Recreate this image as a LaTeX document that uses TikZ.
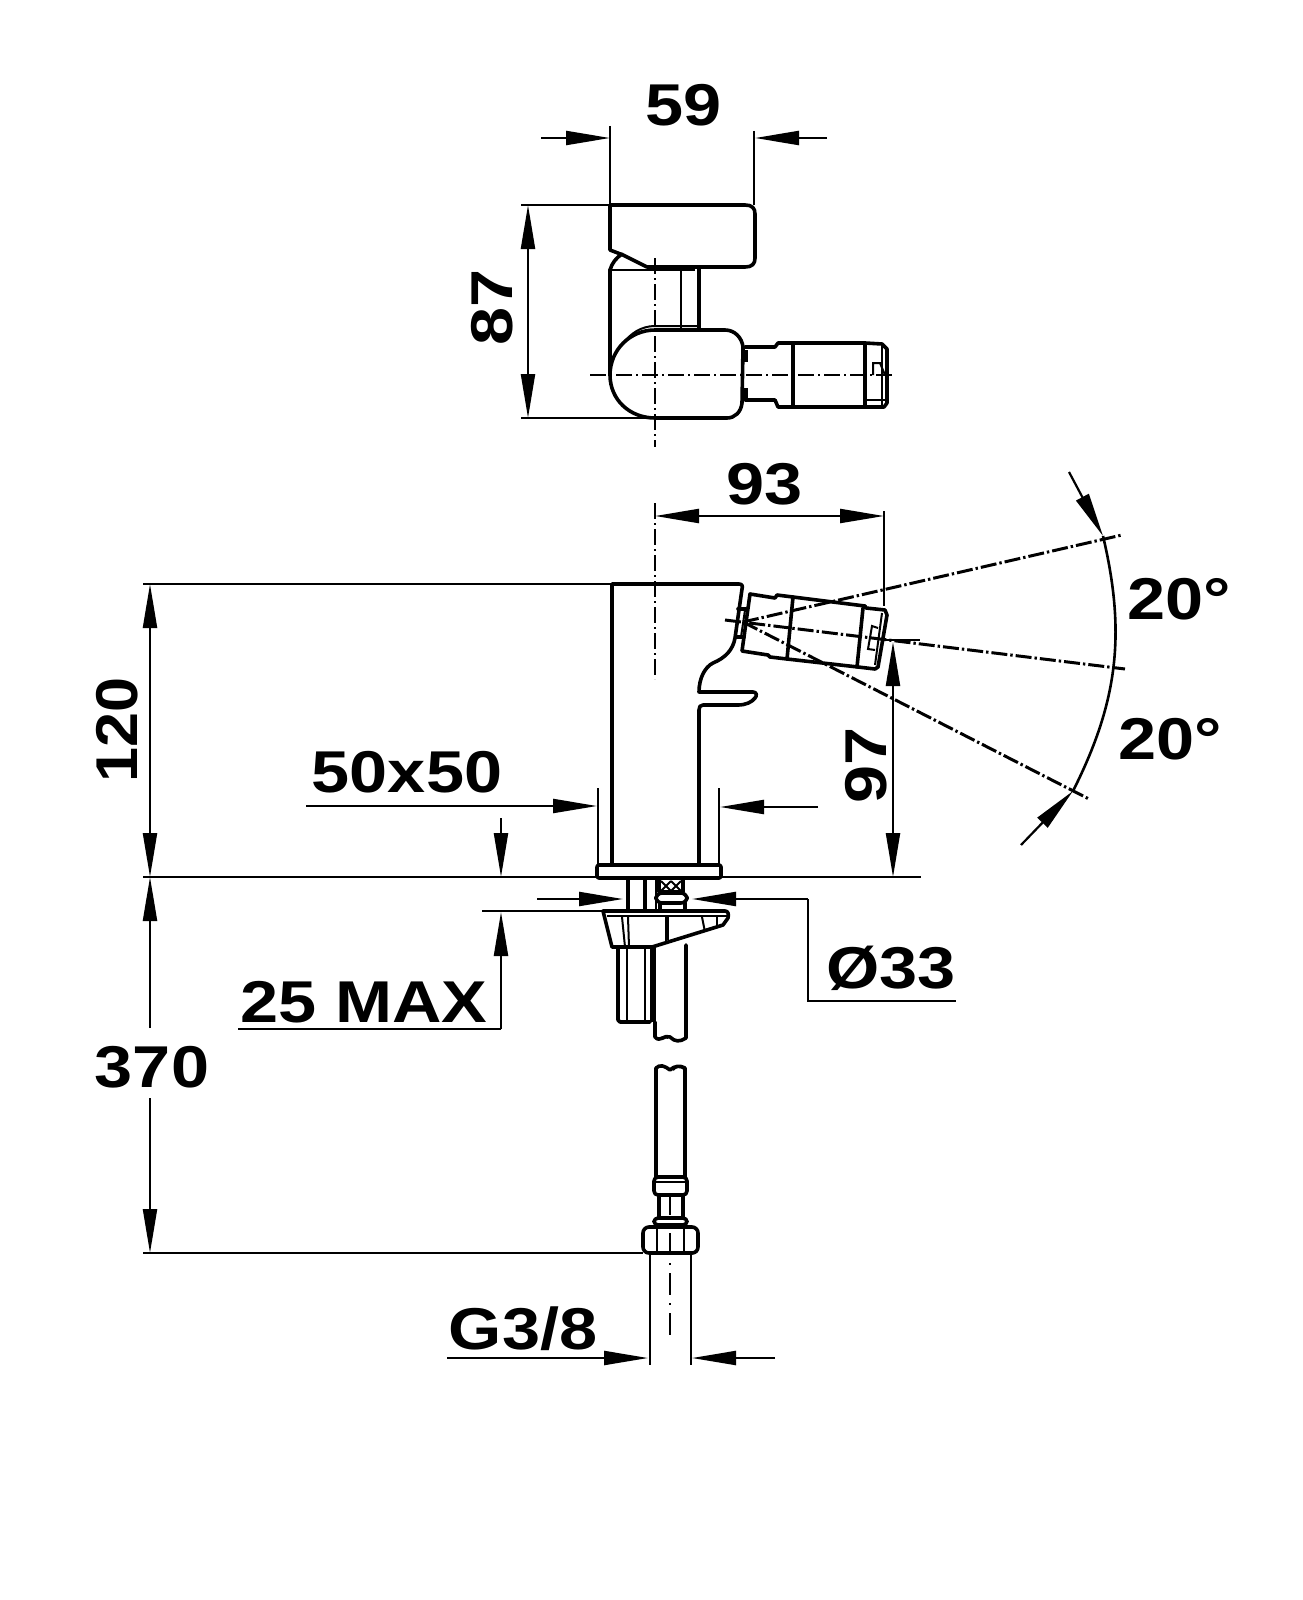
\documentclass[tikz,border=0pt]{standalone}
\usepackage{fontspec}
\setmainfont{Liberation Sans}[FakeStretch=1.16]
\usetikzlibrary{arrows.meta}
\tikzset{
  outline/.style={line width=1.8pt,line join=round,line cap=round},
  inner/.style={line width=1pt},
  dimline/.style={line width=1.1pt},
  dimarrow/.style={dimline,-{Triangle[length=22pt,width=7pt]}},
  centerline/.style={line width=1.2pt,dash pattern=on 8pt off 2pt on 1pt off 2pt},
  angleline/.style={line width=1.5pt,dash pattern=on 8pt off 1.5pt on 1.2pt off 1.5pt},
  dimtext/.style={font=\fontsize{29.5}{30}\selectfont\bfseries,inner sep=0pt}
}
\begin{document}
\begin{tikzpicture}[x=.5pt,y=-.5pt]
\useasboundingbox (0,0) rectangle (1302,1600);
% Top view: lever block
\draw[outline] (610,205) -- (745,205) .. controls (752,205) and (755,208) .. (755,214) -- (755,258)
  .. controls (755,264) and (752,267) .. (745,267) -- (647,267) -- (623,255) -- (610,250) -- cycle;
\draw[outline] (610,270) .. controls (612,263) and (616,258) .. (622,254);
\draw[inner] (610,270) -- (695,270);
% Top view: column
\draw[outline] (610,270) -- (610,375);
\draw[outline] (699,267) -- (699,330);
\draw[inner] (681,270) -- (681,328);
% Top view: body
\draw[outline] (610,375) .. controls (610,350) and (630,330) .. (655,330) -- (725,330)
  .. controls (735,330) and (742,338) .. (743,347) -- (742,403) .. controls (741,412) and (735,418) .. (727,418)
  -- (655,418) .. controls (630,418) and (610,400) .. (610,375);
\draw[inner] (622,345) .. controls (630,333) and (642,326) .. (655,326) -- (697,326);
% Top view: spout
\draw[outline] (745,347) -- (775,347) -- (778,343) -- (865,343) -- (882,344) -- (887,349) -- (887,403) -- (884,407) -- (778,407) -- (775,400) -- (745,400);
\foreach \x in {793,865}
{
  \draw[outline] (\x,343) -- (\x,407);
}
\draw[inner] (882,345) -- (882,405);
\draw[inner] (866,400) -- (885,400);
\draw[inner] (873,375) -- (873,363) -- (880,363) -- (885,375);
\foreach \y in {350,388}
{
  \draw[line width=3pt] (745,\y) -- (745,\y+12);
}
% Top view: center lines
\draw[centerline] (655,258) -- (655,447);
\draw[centerline] (590,375) -- (895,375);
% Top view: dimensions
\draw[dimline] (610,126) -- (610,205);
\draw[dimline] (754,131) -- (754,205);
\draw[dimarrow] (541,138) -- (610,138);
\draw[dimarrow] (827,138) -- (755,138);
\node[dimtext] (w59) at (684,105) {59};
\draw[dimline] (521,205) -- (610,205);
\draw[dimline] (521,418) -- (650,418);
\draw[dimarrow] (528,311) -- (528,205);
\draw[dimarrow] (528,311) -- (528,418);
\node[dimtext,rotate=90] (h87) at (492,307) {87};
% Side view: body and lever
\draw[outline] (612,865) -- (612,584) -- (739,584) .. controls (742,584) and (743,586) .. (742,589) -- (735,638)
  .. controls (733,650) and (725,658) .. (713,663) .. controls (705,667) and (699,678) .. (699,692) -- (753,692)
  .. controls (757,692) and (757,696) .. (755,698) .. controls (752,702) and (746,705) .. (738,705) -- (703,705)
  .. controls (700,705) and (699,707) .. (699,710) -- (699,865);
\draw[outline,rounded corners=1pt] (597,865) rectangle (721,878);
\draw[dimline] (598,788) -- (598,865);
\draw[dimline] (719,788) -- (719,865);
% Side view: spout
\draw[outline] (750,594) -- (775,598) -- (777,595) -- (793,597) -- (865,606) -- (866,608) -- (885,610) -- (887,615) -- (878,667) -- (875,669)
  -- (858,667) -- (787,659) -- (770,657) -- (768,655) -- (742,651) -- cycle;
\draw[outline] (793,597) -- (787,659);
\draw[outline] (863,608) -- (857,667);
\draw[inner] (882,613) -- (875,665);
\draw[inner] (878,628) -- (872,626) -- (868,649) -- (875,650);
\draw[outline] (738,609) -- (746,609);
\draw[outline] (736,637) -- (744,637);
\draw[inner] (745,610) -- (741,637);
% Side view: angle lines
\draw[angleline] (743,622) -- (1122,535);
\draw[angleline] (725,620) -- (1125,669);
\draw[angleline] (743,622) -- (1089,799);
\coordinate (arcT) at (1103,536);
\coordinate (arcB) at (1073,791);
\draw[dimline,line width=1.3pt] (arcT) to[bend left=20] (arcB);
\draw[dimarrow] (1069,472) -- (arcT);
\draw[dimarrow] (1021,845) -- (arcB);
\node[dimtext] (a20t) at (1179,599) {20°};
\node[dimtext] (a20b) at (1170,739) {20°};
% Side view: center line and dimensions
\draw[centerline] (655,503) -- (655,679);
\draw[dimline] (884,511) -- (884,606);
\draw[dimarrow] (770,516) -- (655,516);
\draw[dimarrow] (770,516) -- (884,516);
\node[dimtext] (w93) at (765,484) {93};
\draw[dimline] (143,584) -- (612,584);
\draw[dimline] (143,877) -- (921,877);
\draw[dimarrow] (150,730) -- (150,584);
\draw[dimarrow] (150,730) -- (150,877);
\node[dimtext,rotate=90,xscale=.92] (h120) at (117,730) {120};
\draw[dimline] (885,640) -- (920,640);
\draw[dimarrow] (893,760) -- (893,642);
\draw[dimarrow] (893,760) -- (893,877);
\node[dimtext,rotate=90] (h97) at (866,765) {97};
\draw[dimarrow] (306,806) -- (597,806);
\draw[dimarrow] (818,807) -- (720,807);
\node[dimtext] (b50) at (407,772) {50x50};
\draw[dimarrow] (501,818) -- (501,877);
% Fixing below the deck
\foreach \x in {628,645}
{
  \draw[line width=2.4pt] (\x,878) -- (\x,910);
}
\draw[inner] (656,878) -- (656,910);
\draw[outline] (659,880) -- (659,892) -- (683,892) -- (683,880);
\draw[inner] (661,881) -- (671,891) (671,881) -- (661,891) (671,881) -- (681,891) (681,881) -- (671,891);
\draw[outline,rounded corners=3pt] (656,893) rectangle (687,903);
\foreach \x in {660,685}
{
  \draw[outline] (\x,903) -- (\x,910);
}
% Bracket
\draw[outline] (603,911) -- (725,911) .. controls (728,911) and (729,914) .. (728,918) -- (723,925) -- (652,947) -- (612,947) -- cycle;
\draw[inner] (607,916) -- (727,916);
\draw[inner] (622,917) -- (625,947);
\draw[inner] (628,917) -- (629,947);
\draw[inner] (666,917) -- (666,941);
\draw[inner] (668,917) -- (668,940);
\draw[inner] (702,917) -- (705,932);
\draw[inner] (717,917) -- (717,927);
% Stem and hose, upper part
\draw[outline] (618,947) -- (618,1020) -- (620,1022) -- (650,1022);
\draw[inner] (627,947) -- (627,1021);
\draw[inner] (645,947) -- (645,1021);
\draw[line width=2.6pt] (653,947) -- (653,1022);
\draw[outline] (655,1022) -- (655,1037) .. controls (660,1043) and (665,1034) .. (670,1037) .. controls (675,1042) and (680,1042) .. (686,1038) -- (686,945);
\draw[inner] (660,1039) .. controls (663,1036) and (666,1036) .. (668,1038);
% Hose, lower part
\draw[outline] (656,1177) -- (656,1068) .. controls (660,1064) and (665,1066) .. (670,1070) .. controls (674,1066) and (680,1065) .. (685,1068) -- (685,1177);
\draw[inner] (673,1070) .. controls (676,1066) and (681,1066) .. (684,1069);
\draw[outline,rounded corners=2pt] (654,1177) rectangle (687,1195);
\draw[inner] (655,1182) -- (686,1182);
\draw[outline] (659,1195) -- (659,1218);
\draw[outline] (683,1195) -- (683,1218);
\draw[outline,rounded corners=2pt] (654,1218) rectangle (687,1225);
\draw[outline,rounded corners=3pt] (643,1227) rectangle (698,1253);
\foreach \x in {657,684}
{
  \draw[inner] (\x,1227) -- (\x,1253);
}
\draw[dimline] (650,1253) -- (650,1365);
\draw[dimline] (691,1253) -- (691,1365);
\draw[line width=1.1pt,dash pattern=on 11pt off 4pt on 1pt off 4pt] (670,1193) -- (670,1335);
% Lower dimensions
\draw[dimarrow] (537,899) -- (623,899);
\draw[dimarrow] (808,899) -- (692,899);
\draw[dimline] (808,899) -- (808,1001) -- (956,1001);
\node[dimtext] (d33) at (891,968) {Ø33};
\draw[dimline] (482,911) -- (603,911);
\draw[dimarrow] (501,1029) -- (501,912);
\draw[dimline] (501,1029) -- (238,1029);
\node[dimtext] (m25) at (364,1002) {25 MAX};
\draw[dimarrow] (150,1028) -- (150,877);
\draw[dimarrow] (150,1098) -- (150,1253);
\draw[dimline] (143,1253) -- (643,1253);
\node[dimtext] (h370) at (152,1067) {370};
\draw[dimarrow] (447,1358) -- (648,1358);
\draw[dimarrow] (775,1358) -- (692,1358);
\node[dimtext] (g38) at (523,1329) {G3/8};
\end{tikzpicture}
\end{document}
